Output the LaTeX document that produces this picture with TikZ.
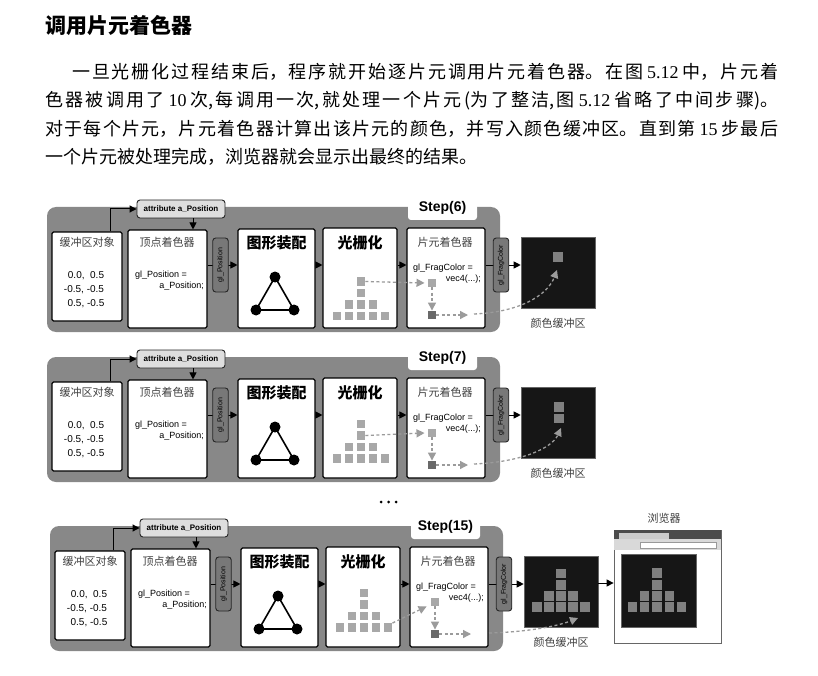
\documentclass[tikz,border=0pt]{standalone}
\usepackage{fontspec}
\setmainfont{Liberation Serif}
\newfontfamily\cjk{Noto Sans CJK SC}
\newfontfamily\lsans{Liberation Sans}
\usetikzlibrary{arrows.meta,calc}
\XeTeXlinebreaklocale "zh"
\XeTeXlinebreakskip=0pt plus 4pt

\definecolor{panelgray}{RGB}{136,136,136}
\definecolor{tagfill}{RGB}{222,222,222}
\definecolor{vtagfill}{RGB}{120,120,120}
\definecolor{pixlight}{RGB}{168,168,168}
\definecolor{pixdark}{RGB}{105,105,105}
\definecolor{bufpix}{RGB}{128,128,128}
\definecolor{screenblack}{RGB}{22,22,22}
\definecolor{dashgray}{RGB}{155,155,155}

\tikzset{
  panelbg/.style={fill=panelgray, rounded corners=9pt, minimum width=453pt, minimum height=125pt, inner sep=0pt},
  steptab/.style={fill=white, rounded corners=3pt, minimum width=69pt, minimum height=24pt, inner sep=0pt,
    font=\lsans\bfseries\fontsize{14}{14}\selectfont},
  stage/.style={draw=black, line width=1.1pt, fill=white, rounded corners=1.5pt, inner sep=0pt},
  boxtitle/.style={font=\cjk\fontsize{11}{11}\selectfont, text=black!75, inner sep=0pt},
  bigtitle/.style={font=\cjk\bfseries\fontsize{15}{15}\selectfont, inner sep=0pt},
  codetext/.style={font=\lsans\fontsize{9}{9}\selectfont, inner sep=0pt},
  valtext/.style={font=\lsans\fontsize{10}{10}\selectfont, inner sep=0pt},
  attrtag/.style={draw=black!85, line width=0.9pt, fill=tagfill, rounded corners=3pt, inner sep=0pt,
    minimum width=88pt, minimum height=18pt, font=\lsans\bfseries\fontsize{8}{8}\selectfont},
  vtag/.style={draw=black!85, line width=0.9pt, fill=vtagfill, rounded corners=3pt, inner sep=0pt,
    minimum width=54pt, minimum height=15.5pt, rotate=90, font=\lsans\fontsize{7}{7}\selectfont},
  arr/.style={line width=1pt, -{Triangle[length=7pt,width=7pt]}},
  darr/.style={draw=dashgray, line width=1.3pt, dash pattern=on 3pt off 2.5pt,
    -{Triangle[length=8pt,width=8pt,fill=dashgray]}},
  pixel/.style={fill=pixlight, minimum size=8.5pt, inner sep=0pt},
  bpixel/.style={fill=bufpix, minimum size=9.5pt, inner sep=0pt},
  vdot/.style={circle, fill=black, minimum size=11pt, inner sep=0pt},
  screen/.style={fill=screenblack, draw=black!60, line width=0.6pt, inner sep=0pt},
  para/.style={anchor=west, inner sep=0pt, font=\cjk\fontsize{18}{18}\selectfont}
}

% One stage of the WebGL pipeline: buffer, vertex shader, assembly,
% rasterisation, fragment shader and the colour buffer.
\newcommand\pipelinepanel[2]{%
  \node[panelbg] (panel) at (273.5,269.5) {};
  \node[steptab] (steptab) at (442.5,208) {#1};
  % buffer object
  \node[stage, minimum width=70pt, minimum height=89pt] (buf) at (87,276.5) {};
  \node[boxtitle] (buftitle) at (87,242) {缓冲区对象};
  \node[valtext] (val1) at (86,276) {0.0,\ \ 0.5};
  \node[valtext] (val2) at (84,290) {-0.5, -0.5};
  \node[valtext] (val3) at (86,304) {0.5, -0.5};
  % vertex shader
  \node[stage, minimum width=79pt, minimum height=98pt] (vs) at (167.5,279) {};
  \node[boxtitle] (vstitle) at (167,242) {顶点着色器};
  \node[codetext, anchor=west] (vscode1) at (135,275) {gl\_Position =};
  \node[codetext, anchor=east] (vscode2) at (204,286) {a\_Position;};
  % attribute variable
  \node[attrtag] (attr) at (181,209) {attribute a\_Position};
  \draw[arr] ([xshift=-12pt]buf.north east) |- (attr.west);
  \draw[arr] ([xshift=12pt]attr.south) -- ([xshift=12pt]attr.south |- vs.north);
  % primitive assembly
  \node[stage, minimum width=77pt, minimum height=99pt] (geo) at (276.5,278.5) {};
  \node[bigtitle] (geotitle) at (276.5,243) {图形装配};
  \node[vdot] (ta) at (275,277) {};
  \node[vdot] (tb) at (256,310) {};
  \node[vdot] (tc) at (294,310) {};
  \draw[line width=1.6pt] (ta.center) -- (tb.center) -- (tc.center) -- cycle;
  \draw[arr] ([yshift=14pt]vs.east) -- ([yshift=14pt]vs.east -| geo.west);
  \node[vtag] (glpos) at (220.5,265) {gl\_Position};
  % rasterisation
  \node[stage, minimum width=74pt, minimum height=100pt] (ras) at (360,278) {};
  \node[bigtitle] (rastitle) at (360,243) {光栅化};
  \foreach \c in {1,...,5} \node[pixel] (r1c\c) at ({325+12*\c},{#2}) {};
  \foreach \c in {2,...,4} \node[pixel] (r2c\c) at ({325+12*\c},{#2-11.5}) {};
  \node[pixel] (r3c3) at (361,{#2-23}) {};
  \node[pixel] (r4c3) at (361,{#2-34.5}) {};
  \draw[arr] ([yshift=13.5pt]geo.east) -- ([yshift=13.5pt]geo.east -| ras.west);
  % fragment shader
  \node[stage, minimum width=78pt, minimum height=100pt] (frag) at (446,278) {};
  \node[boxtitle] (fragtitle) at (445,242) {片元着色器};
  \node[codetext, anchor=west] (fragcode1) at (413,268) {gl\_FragColor =};
  \node[codetext, anchor=east] (fragcode2) at (481,279) {vec4(...);};
  \node[pixel] (fa) at (432,283) {};
  \node[pixel, fill=pixdark] (fb) at (432,315) {};
  \coordinate (fbtip) at (468,315);
  \draw[darr] (fa.south) -- (fb.north);
  \draw[darr] (fb.east) -- (fbtip);
  \draw[arr] ([yshift=13pt]ras.east) -- ([yshift=13pt]ras.east -| frag.west);
  % colour buffer
  \node[screen, minimum width=74pt, minimum height=71pt] (cb) at (558,272.5) {};
  \node[boxtitle] (cbtitle) at (558,323) {颜色缓冲区};
  \draw[arr] ([yshift=13pt]frag.east) -- ([yshift=13pt]frag.east -| cb.west);
  \node[vtag] (glfrag) at (501,265) {gl\_FragColor};
}

\begin{document}
\begin{tikzpicture}[x=1pt,y=-1pt]
\useasboundingbox (0,0) rectangle (818,676);
\fill[white] (0,0) rectangle (818,676);

% heading and paragraph (full lines are justified to the text width)
\node[anchor=west, inner sep=0pt, font=\cjk\bfseries\fontsize{21}{21}\selectfont] (heading) at (45,26) {调用片元着色器};
\node[para] (line1) at (72,72) {\parbox{706pt}{\parfillskip=0pt 一旦光栅化过程结束后，程序就开始逐片元调用片元着色器。在图\hspace{4pt}{\rmfamily 5.12}\hspace{4pt}中，片元着}};
\node[para] (line2) at (45,101) {\parbox{733pt}{\parfillskip=0pt 色器被调用了\hspace{4pt}{\rmfamily 10}\hspace{4pt}次,每调用一次,就处理一个片元\hspace{3pt}(为了整洁,图\hspace{4pt}{\rmfamily 5.12}\hspace{4pt}省略了中间步骤)。}};
\node[para] (line3) at (45,129) {\parbox{733pt}{\parfillskip=0pt 对于每个片元，片元着色器计算出该片元的颜色，并写入颜色缓冲区。直到第\hspace{4pt}{\rmfamily 15}\hspace{4pt}步最后}};
\node[para] (line4) at (45,157) {一个片元被处理完成，浏览器就会显示出最终的结果。};

% step 6
\begin{scope}[name prefix=a-]
  \pipelinepanel{Step(6)}{316}
  \draw[darr] (r4c3.east) -- ([xshift=-3pt]fa.west);
  \node[bpixel] (px1) at (558,257) {};
  \coordinate (cstart) at (474,314);
  \coordinate (ctip) at (557,270);
  \draw[darr] (cstart) .. controls (522,312) and (548,294) .. (ctip);
\end{scope}

% step 7
\begin{scope}[shift={(0,150)}, name prefix=b-]
  \pipelinepanel{Step(7)}{308.5}
  \draw[darr] (r3c3.east) -- ([xshift=-3pt]fa.west);
  \node[bpixel] (px1) at (559,257) {};
  \node[bpixel] (px2) at (559,268.5) {};
  \coordinate (cstart) at (474,314);
  \coordinate (ctip) at (561,278);
  \draw[darr] (cstart) .. controls (522,312) and (552,298) .. (ctip);
\end{scope}

\node[circle, fill=black, minimum size=3pt, inner sep=0pt] (dot1) at (381,502) {};
\node[circle, fill=black, minimum size=3pt, inner sep=0pt] (dot2) at (388.5,502) {};
\node[circle, fill=black, minimum size=3pt, inner sep=0pt] (dot3) at (396,502) {};

% step 15
\begin{scope}[shift={(3,319)}, name prefix=c-]
  \pipelinepanel{Step(15)}{308.5}
  \draw[darr] (r1c5.north east) -- ([xshift=-4pt]fa.south west);
  \foreach \c in {-2,...,2} \node[bpixel] (b1\c) at ({558+12*\c},288) {};
  \foreach \c in {-1,...,1} \node[bpixel] (b2\c) at ({558+12*\c},277) {};
  \node[bpixel] (b3) at (558,266) {};
  \node[bpixel] (b4) at (558,254.5) {};
  \coordinate (cstart) at (486,314);
  \coordinate (ctip) at (575,299);
  \draw[darr] (cstart) .. controls (525,313) and (555,307) .. (ctip);
\end{scope}

% browser window showing the result
\node[draw=black!60, fill=white, line width=0.8pt, minimum width=107pt, minimum height=113pt, inner sep=0pt] (brow) at (667.5,586.5) {};
\node[fill=black!70, minimum width=107pt, minimum height=9pt, inner sep=0pt, anchor=north] (titlebar) at (brow.north) {};
\node[fill=black!20, minimum width=50pt, minimum height=6pt, inner sep=0pt, anchor=south west] (tab) at ([xshift=5pt]titlebar.south west) {};
\node[fill=black!15, minimum width=107pt, minimum height=11pt, inner sep=0pt, anchor=north] (addrbar) at (titlebar.south) {};
\node[fill=white, draw=black!40, line width=0.4pt, minimum width=76pt, minimum height=6pt, inner sep=0pt, anchor=east] (urlfield) at ([xshift=-5pt]addrbar.east) {};
\node[screen, minimum width=75pt, minimum height=73pt] (display) at (658.5,590.5) {};
\foreach \c in {-2,...,2} \node[bpixel] (w1\c) at ({657+12.3*\c},607) {};
\foreach \c in {-1,...,1} \node[bpixel] (w2\c) at ({657+12.3*\c},596) {};
\node[bpixel] (w3) at (657,585) {};
\node[bpixel] (w4) at (657,573) {};
\node[boxtitle] (browtitle) at (664,518) {浏览器};
\draw[arr] ([yshift=8.5pt]c-cb.east) -- ([yshift=8.5pt]c-cb.east -| brow.west);

\end{tikzpicture}
\end{document}
